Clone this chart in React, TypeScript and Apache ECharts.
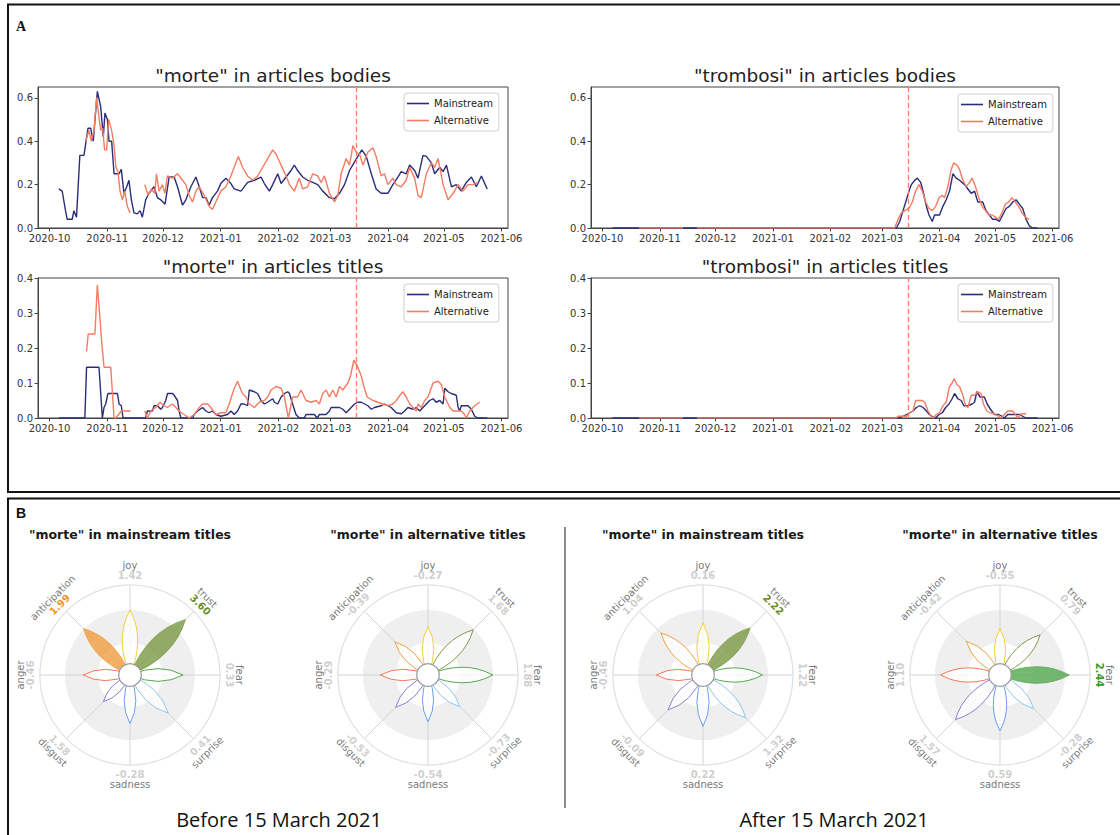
import React, { useEffect, useRef } from "react";
import * as echarts from "echarts";

// x values: days since 2020-10-01
const monthTickDays = [0, 31, 61, 92, 123, 151, 182, 212, 243];
const monthTickLabels = ["2020-10", "2020-11", "2020-12", "2021-01", "2021-02", "2021-03", "2021-04", "2021-05", "2021-06"];
const cutoffDay = 165; // 2021-03-15
const bodiesYTicks = [0, 0.2, 0.4, 0.6];
const titlesYTicks = [0, 0.1, 0.2, 0.3, 0.4];
const GAP = "-";

const morteBodiesMainstream = [
  [5, 0.18], [6.8, 0.17], [8.6, 0.08], [9.5, 0.04], [12.2, 0.04], [13.1, 0.08], [14.5, 0.05], [16.3, 0.335], [18.5, 0.335],
  [20.7, 0.46], [22.1, 0.46], [23.5, 0.4], [25.7, 0.63], [27.5, 0.56], [28.9, 0.42], [29.8, 0.53], [31.1, 0.5], [32, 0.4],
  [33.4, 0.4], [34.7, 0.25], [37.4, 0.25], [38.6, 0.27], [40, 0.16], [41.5, 0.19], [42.7, 0.22], [44, 0.13], [45.4, 0.07],
  [47.2, 0.065], [48.7, 0.08], [49.9, 0.05], [51.7, 0.13], [53.5, 0.16], [56.2, 0.19], [58, 0.14], [59.8, 0.13], [62.1, 0.11],
  [64.3, 0.235], [67, 0.235], [68.8, 0.19], [71.5, 0.105], [73.3, 0.13], [76, 0.19], [78.7, 0.235], [80.5, 0.19], [82.3, 0.14],
  [84.1, 0.14], [85.8, 0.105], [87.6, 0.14], [90.3, 0.17], [92.1, 0.205], [94.8, 0.23], [97.5, 0.205], [99.3, 0.18],
  [102.9, 0.17], [106.5, 0.21], [110.1, 0.22], [113.7, 0.235], [115.5, 0.205], [118.2, 0.17], [120, 0.2], [122.7, 0.25],
  [124.5, 0.205], [127.2, 0.235], [129.8, 0.265], [131.6, 0.29], [133.4, 0.265], [136.1, 0.235], [138.8, 0.22], [141.5, 0.21],
  [144.2, 0.2], [146.9, 0.17], [150.5, 0.14], [153.2, 0.135], [155.9, 0.16], [158.6, 0.2], [161.3, 0.265], [164, 0.305],
  [166.1, 0.335], [167.9, 0.36], [170.3, 0.33], [173, 0.25], [175.6, 0.18], [178.3, 0.16], [181.9, 0.16], [184.6, 0.2],
  [187.3, 0.235], [189.1, 0.26], [191.8, 0.25], [193.6, 0.29], [196.3, 0.265], [198.1, 0.23], [200.8, 0.335], [202.6, 0.33],
  [205.3, 0.3], [207.1, 0.25], [209.8, 0.28], [211.6, 0.26], [213.4, 0.29], [216.1, 0.19], [218.7, 0.2], [221.4, 0.17],
  [224.1, 0.21], [226.8, 0.235], [229.5, 0.19], [232.2, 0.24], [235.3, 0.18],
];

const morteBodiesAlternative = [
  [19.4, 0.4], [21.2, 0.45], [22.4, 0.4], [23.9, 0.45], [25.3, 0.6], [27.5, 0.45], [28.6, 0.46], [29.6, 0.36], [30.7, 0.36],
  [31.8, 0.5], [33.4, 0.45], [34.7, 0.38], [35.7, 0.28], [36.8, 0.26], [37.9, 0.17], [39.2, 0.13], [40.4, 0.17], [41.8, 0.1],
  [43.3, 0.07], [47, GAP], [51.2, 0.2], [53, 0.15], [54.8, 0.18], [56.6, 0.16], [57.5, 0.25], [58.9, 0.17], [60.7, 0.2],
  [62, 0.16], [63.4, 0.24], [66.1, 0.23], [68.8, 0.25], [71.5, 0.22], [73.3, 0.2], [75.1, 0.15], [76.9, 0.12], [78.7, 0.17],
  [80.5, 0.19], [83.2, 0.15], [85.8, 0.1], [87.6, 0.085], [89.4, 0.12], [92.1, 0.17], [94.8, 0.19], [97.5, 0.24], [99.3, 0.28],
  [101.5, 0.33], [103.8, 0.28], [106.5, 0.24], [109.2, 0.22], [111.9, 0.24], [114.6, 0.28], [117.3, 0.32], [120, 0.36],
  [121.8, 0.34], [124.5, 0.29], [127.2, 0.24], [129, 0.2], [131.6, 0.17], [134.3, 0.23], [136.1, 0.18], [138.8, 0.19],
  [141.5, 0.25], [144.2, 0.24], [146, 0.21], [147.8, 0.24], [150.5, 0.16], [153.2, 0.12], [155, 0.15], [156.8, 0.25],
  [159.5, 0.32], [161.3, 0.29], [163.1, 0.38], [164.9, 0.35], [166.7, 0.34], [168.5, 0.29], [171.2, 0.35], [173.9, 0.37],
  [175.6, 0.33], [178.3, 0.24], [180.1, 0.25], [181.9, 0.2], [184.6, 0.23], [186.4, 0.2], [189.1, 0.19], [191.8, 0.22],
  [193.6, 0.28], [196.3, 0.23], [198.1, 0.15], [199.9, 0.14], [202.6, 0.25], [205.3, 0.3], [207.1, 0.28], [208.9, 0.32],
  [211.6, 0.2], [214.3, 0.13], [217, 0.16], [219.7, 0.2], [222.3, 0.17], [225, 0.2], [227.7, 0.2], [230.4, 0.21],
];

const morteTitlesMainstream = [
  [5, 0], [19, 0], [19.9, 0.145], [26.6, 0.145], [28.4, 0], [29.3, 0.03], [30.2, 0.04], [31.4, 0.07], [36.5, 0.07],
  [37.4, 0.04], [38.6, 0.035], [39.5, 0], [51.7, 0], [52.6, 0.02], [55.3, 0.02], [56.2, 0.035], [58, 0.035], [59.8, 0.025],
  [60.7, 0.03], [62.5, 0.05], [63.4, 0.07], [66.1, 0.07], [67, 0.065], [68.8, 0.05], [69.7, 0.02], [70.6, 0], [76.9, 0],
  [77.8, 0.01], [79.6, 0.02], [82.3, 0.03], [84.1, 0.02], [85.8, 0.015], [87.6, 0.02], [89.4, 0.01], [92.1, 0.005],
  [95.7, 0.01], [97.5, 0.02], [99.3, 0.01], [101.1, 0.02], [102.9, 0.04], [104.7, 0.04], [106.5, 0.035], [107.4, 0.08],
  [110.1, 0.075], [111.9, 0.07], [113.7, 0.05], [115.5, 0.04], [117.3, 0.045], [120, 0.055], [120.9, 0.045], [122.7, 0.04],
  [124.5, 0.06], [126.3, 0.07], [128.1, 0.075], [129, 0.07], [130.7, 0.04], [132.5, 0.01], [134.3, 0], [137, 0],
  [137.9, 0.01], [142.4, 0.01], [143.9, 0], [145.1, 0.01], [148.7, 0.01], [150.5, 0.02], [151.4, 0.03], [155.9, 0.03],
  [157.7, 0.025], [159.5, 0.015], [161.3, 0.025], [164, 0.04], [165.8, 0.045], [167.6, 0.045], [169.4, 0.04], [171.2, 0.035],
  [173, 0.025], [174.7, 0.03], [178.3, 0.035], [180.1, 0.04], [181.9, 0.035], [183.7, 0.03], [186.4, 0.015], [189.1, 0.012],
  [190.9, 0.02], [192.7, 0.03], [195.4, 0.025], [197.2, 0.03], [199, 0.02], [200.8, 0.03], [202.6, 0.04], [204.4, 0.05],
  [206.2, 0.055], [207.9, 0.045], [209.8, 0.05], [211.6, 0.04], [212.5, 0.085], [214.3, 0.075], [216.1, 0.07], [218.7, 0.065],
  [219.7, 0.03], [220.5, 0.02], [221.4, 0.035], [225, 0.035], [226.8, 0.025], [228.6, 0.005], [230.4, 0], [235.3, 0],
];

const morteTitlesAlternative = [
  [19.9, 0.19], [20.8, 0.24], [24.4, 0.24], [25.7, 0.38], [26.9, 0.3], [28, 0.22], [29.3, 0.145], [32.9, 0.145], [34.7, 0],
  [35.6, 0], [38.6, 0.02], [43.6, 0.02], [47, GAP], [51.2, 0.02], [52.6, 0], [54.4, 0.02], [57.1, 0.03], [59.4, 0.045],
  [61.6, 0.035], [63.4, 0.03], [66.1, 0.04], [67.9, 0.03], [69.7, 0.02], [72.4, 0.01], [75.1, 0], [77.8, 0.01], [80.5, 0.03],
  [82.3, 0.04], [85, 0.04], [86.7, 0.03], [89.4, 0.01], [92.1, 0.015], [94.8, 0.015], [96.6, 0.04], [99.3, 0.085],
  [101.1, 0.105], [102.9, 0.08], [103.8, 0.07], [105.6, 0.06], [107.4, 0.04], [110.1, 0.03], [112.8, 0.045], [115.5, 0.05],
  [117.3, 0.06], [119.1, 0.08], [121.8, 0.09], [124.5, 0.085], [126.3, 0.06], [128.4, 0], [130.7, 0.06], [133.4, 0.06],
  [135.2, 0.08], [137.9, 0.05], [140.6, 0.045], [143.3, 0.05], [145.1, 0.04], [146.9, 0.07], [148.7, 0.08], [150.5, 0.06],
  [152.3, 0.08], [154.1, 0.06], [155.9, 0.09], [157.7, 0.08], [160.4, 0.1], [161.8, 0.12], [163.6, 0.165], [165.4, 0.15],
  [167.6, 0.12], [169, 0.09], [170.8, 0.06], [173.9, 0.05], [176.5, 0.045], [179.2, 0.04], [181.9, 0.035], [184.6, 0.04],
  [186.4, 0.05], [189.1, 0.07], [190, 0.075], [191.8, 0.06], [193.6, 0.04], [195.4, 0.03], [197.2, 0.02], [198.1, 0.04],
  [199.9, 0.03], [201.7, 0.05], [203.5, 0.06], [206.2, 0.1], [208.9, 0.105], [210.7, 0.095], [212.5, 0.06], [214.3, 0.04],
  [215.2, 0.03], [217, 0.02], [221.4, 0.02], [223.2, 0.01], [224.1, 0], [225.9, 0.02], [228.6, 0.035], [231.3, 0.045],
];

const trombosiBodiesMainstream = [
  [5.4, 0], [158.7, 0], [160.5, 0.03], [162.3, 0.08], [164.1, 0.13], [165.5, 0.17], [166.8, 0.2], [168.6, 0.22], [170, 0.23],
  [171.8, 0.21], [173.1, 0.17], [174.9, 0.1], [176.3, 0.06], [178.1, 0.03], [179.3, 0.06], [182, 0.06], [183.8, 0.1],
  [185.6, 0.13], [187.4, 0.17], [189.2, 0.25], [191, 0.23], [192.8, 0.22], [195.5, 0.2], [197.3, 0.18], [199.1, 0.16],
  [200.9, 0.17], [202.7, 0.12], [205.3, 0.12], [207.1, 0.08], [208.9, 0.06], [210.7, 0.04], [212.5, 0.04], [214.3, 0.03],
  [216.1, 0.06], [217.9, 0.09], [219.7, 0.1], [221.5, 0.12], [223.3, 0.13], [225.1, 0.11], [226.9, 0.09], [228.7, 0.04],
  [230.5, 0.01], [232.2, 0], [234.9, 0],
];

const trombosiBodiesAlternative = [
  [19.7, 0], [43.5, 0], [47, GAP], [51, 0], [157.8, 0], [159.6, 0.04], [161.4, 0.07], [163.2, 0.08], [165.5, 0.09],
  [167.3, 0.12], [169.1, 0.17], [170.9, 0.2], [172.7, 0.17], [174.5, 0.12], [176.3, 0.09], [178.1, 0.08], [179.9, 0.1],
  [181.7, 0.14], [183.5, 0.15], [184.7, 0.14], [186.5, 0.19], [188.3, 0.27], [189.6, 0.3], [191.4, 0.29], [192.8, 0.27],
  [194.6, 0.22], [196.4, 0.19], [198.2, 0.21], [199.6, 0.23], [201.4, 0.19], [203.2, 0.14], [205, 0.1], [206.8, 0.08],
  [208.6, 0.06], [210.4, 0.06], [212.2, 0.05], [213.9, 0.04], [215.7, 0.07], [217.5, 0.11], [219.3, 0.12], [221.1, 0.14],
  [222.9, 0.12], [224.7, 0.1], [226.5, 0.07], [228.3, 0.05], [230.4, 0.04],
];

const trombosiTitlesMainstream = [
  [5.4, 0], [160.5, 0], [162.3, 0.005], [164.1, 0.01], [165.9, 0.015], [167.7, 0.02], [169.5, 0.03], [171.3, 0.035],
  [173.1, 0.03], [174.9, 0.02], [176.6, 0.01], [178.4, 0.003], [179.9, 0], [181.7, 0.01], [183.5, 0.015], [185.3, 0.03],
  [187.1, 0.04], [188.8, 0.055], [190.1, 0.07], [191.9, 0.055], [193.7, 0.05], [195.1, 0.035], [197.3, 0.035], [199.6, 0.04],
  [200.9, 0.045], [202.1, 0.075], [203.9, 0.06], [206.2, 0.06], [207.7, 0.04], [209.5, 0.025], [211.6, 0.01], [213.9, 0.01],
  [215.7, 0.005], [217, 0], [218.8, 0.01], [225.1, 0.01], [226.9, 0.005], [228.7, 0], [234.9, 0],
];

const trombosiTitlesAlternative = [
  [19.7, 0], [43.5, 0], [47, GAP], [51, 0], [158.7, 0], [159.6, 0.005], [164.1, 0.005], [165.9, 0.015], [167.7, 0.02],
  [169.1, 0.05], [172.7, 0.05], [174, 0.045], [175.8, 0.02], [177.5, 0.005], [178.8, 0], [180.2, 0.01], [182, 0.015],
  [183.8, 0.035], [185.6, 0.045], [187.4, 0.09], [188.8, 0.1], [189.9, 0.112], [191.4, 0.095], [192.8, 0.09], [194.6, 0.065],
  [196, 0.035], [197.3, 0.03], [199.1, 0.065], [200.9, 0.065], [202.7, 0.075], [204.4, 0.07], [205.7, 0.04], [207.5, 0.02],
  [209.3, 0.015], [211.6, 0.012], [213.9, 0.005], [215.2, 0], [217, 0.01], [218.8, 0.02], [221.5, 0.02], [222.9, 0.01],
  [224.2, 0], [226, 0.012], [228.7, 0.012],
];

// Panel B: emotion wheels (petal length relative to the outer circle, and displayed scores)
const emotions = ["joy", "trust", "fear", "surprise", "sadness", "disgust", "anger", "anticipation"];
const wheelTitles = ['"morte" in mainstream titles', '"morte" in alternative titles', '"morte" in mainstream titles', '"morte" in alternative titles'];
const petalsBeforeMainstream = [0.72, 0.87, 0.59, 0.6, 0.54, 0.42, 0.52, 0.73];
const scoresBeforeMainstream = [1.42, 3.6, 0.33, 0.41, -0.28, 1.58, -0.46, 1.99];
const petalsBeforeAlternative = [0.54, 0.71, 0.72, 0.5, 0.52, 0.51, 0.53, 0.52];
const scoresBeforeAlternative = [-0.27, 1.68, 1.88, -0.73, -0.54, -0.53, -0.29, -0.39];
const petalsAfterMainstream = [0.58, 0.74, 0.66, 0.67, 0.57, 0.55, 0.52, 0.66];
const scoresAfterMainstream = [0.16, 2.22, 1.22, 1.32, 0.22, -0.09, -0.46, 1.04];
const petalsAfterAlternative = [0.52, 0.63, 0.77, 0.53, 0.62, 0.7, 0.66, 0.53];
const scoresAfterAlternative = [-0.55, 0.79, 2.44, -0.28, 0.59, 1.57, 1.1, -0.42];
const significance = 1.96;
const periodLabels = ["Before 15 March 2021", "After 15 March 2021"];

const MAIN = "#2a2d78";
const ALT = "#f57b63";
const FONT = "DejaVu Sans";
const emotionColors = ["#f3d03c", "#7c9c48", "#58a950", "#8cc6ea", "#6a9ef0", "#8e7fd6", "#f27a5a", "#f0a043"];
const emotionHiText = ["#e0b820", "#6a8c28", "#3c9a32", "#4f9fd6", "#3d7fe0", "#6c5cc8", "#e85a3a", "#f39526"];

const wheels = [
  { petals: petalsBeforeMainstream, scores: scoresBeforeMainstream, center: [130, 675] },
  { petals: petalsBeforeAlternative, scores: scoresBeforeAlternative, center: [428, 675] },
  { petals: petalsAfterMainstream, scores: scoresAfterMainstream, center: [703, 675] },
  { petals: petalsAfterAlternative, scores: scoresAfterAlternative, center: [1000, 675] },
];

const lineCharts = [
  { title: '"morte" in articles bodies', main: morteBodiesMainstream, alt: morteBodiesAlternative, yMax: 0.65, yTicks: bodiesYTicks, grid: { left: 38, top: 87, width: 470, height: 141 }, legend: { left: 404, top: 93 }, titlePos: [273, 75] },
  { title: '"trombosi" in articles bodies', main: trombosiBodiesMainstream, alt: trombosiBodiesAlternative, yMax: 0.65, yTicks: bodiesYTicks, grid: { left: 591, top: 87, width: 468, height: 141 }, legend: { left: 958, top: 94 }, titlePos: [825, 75] },
  { title: '"morte" in articles titles', main: morteTitlesMainstream, alt: morteTitlesAlternative, yMax: 0.4, yTicks: titlesYTicks, grid: { left: 38, top: 278, width: 470, height: 140 }, legend: { left: 404, top: 284 }, titlePos: [273, 266] },
  { title: '"trombosi" in articles titles', main: trombosiTitlesMainstream, alt: trombosiTitlesAlternative, yMax: 0.4, yTicks: titlesYTicks, grid: { left: 591, top: 278, width: 468, height: 140 }, legend: { left: 958, top: 284 }, titlePos: [825, 266] },
];

function petalRenderer(scores: number[]) {
  return (params: any, api: any) => {
    const i = params.dataIndex;
    const len = api.value(0);
    const ang = api.value(1);
    const c = api.coord([0, ang]);
    const t = api.coord([len, ang]);
    const dx = t[0] - c[0];
    const dy = t[1] - c[1];
    const L = Math.sqrt(dx * dx + dy * dy) || 1;
    const nx = -dy / L;
    const ny = dx / L;
    const h = 0.24 * L;
    const qx = c[0] + dx * 0.56;
    const qy = c[1] + dy * 0.56;
    const d = `M${c[0]} ${c[1]}Q${qx + nx * h} ${qy + ny * h} ${t[0]} ${t[1]}Q${qx - nx * h} ${qy - ny * h} ${c[0]} ${c[1]}Z`;
    const score = scores[i];
    const hi = score > significance;
    const col = emotionColors[i];
    let deg = 90 - 45 * ang;
    while (deg <= -180) deg += 360;
    const rotDeg = deg >= 0 ? deg - 90 : deg + 90;
    const rot = (rotDeg * Math.PI) / 180;
    const pn = api.coord([1.215, ang]);
    const pv = api.coord([1.105, ang]);
    return {
      type: "group",
      children: [
        {
          type: "path",
          shape: { pathData: d },
          style: hi
            ? { fill: col, opacity: 0.82, stroke: col, lineWidth: 1 }
            : { fill: "rgba(255,255,255,0.78)", stroke: col, lineWidth: 1 },
        },
        {
          type: "text",
          x: pn[0],
          y: pn[1],
          rotation: rot,
          style: { text: emotions[i], fill: "#7a7a7a", fontSize: 10, fontFamily: FONT, align: "center", verticalAlign: "middle" },
        },
        {
          type: "text",
          x: pv[0],
          y: pv[1],
          rotation: rot,
          style: {
            text: score.toFixed(2),
            fill: hi ? emotionHiText[i] : "#cfcfcf",
            fontSize: 10,
            fontWeight: "bold",
            fontFamily: FONT,
            align: "center",
            verticalAlign: "middle",
          },
        },
      ],
    };
  };
}

function centerRenderer(params: any, api: any) {
  const c = api.coord([0, 0]);
  const e = api.coord([0.125, 2]);
  const r = Math.abs(e[0] - c[0]);
  return { type: "circle", shape: { cx: c[0], cy: c[1], r }, style: { fill: "#ffffff", stroke: "#9a9a9a", lineWidth: 1.2 } };
}

export default function App() {
  const ref = useRef<HTMLDivElement>(null);
  useEffect(() => {
    if (!ref.current) return;
    const chart = echarts.init(ref.current, null, { renderer: "svg" });

    const grids = lineCharts.map((lc) => ({ ...lc.grid, show: true, borderColor: "#444", borderWidth: 1, containLabel: false, outerBoundsMode: "none" }));
    const xAxes = lineCharts.map((_, g) => ({
      gridIndex: g,
      type: "value",
      min: -6.2,
      max: 246.5,
      axisLine: { show: true, onZero: false, lineStyle: { color: "#444" } },
      axisTick: { show: true, length: 3.5, customValues: monthTickDays, lineStyle: { color: "#444" } },
      axisLabel: {
        customValues: monthTickDays,
        formatter: (v: number) => {
          const k = monthTickDays.indexOf(Math.round(v));
          return k >= 0 ? monthTickLabels[k] : "";
        },
        fontSize: 10,
        color: "#333",
        margin: 5,
        fontFamily: FONT,
      },
      splitLine: { show: false },
    }));
    const yAxes = lineCharts.map((lc, g) => ({
      gridIndex: g,
      type: "value",
      min: 0,
      max: lc.yMax,
      axisLine: { show: true, onZero: false, lineStyle: { color: "#444" } },
      axisTick: { show: true, length: 3.5, customValues: lc.yTicks, lineStyle: { color: "#444" } },
      axisLabel: { customValues: lc.yTicks, formatter: (v: number) => v.toFixed(1), fontSize: 10, color: "#333", margin: 5, fontFamily: FONT },
      splitLine: { show: false },
    }));
    const legends = lineCharts.map((lc) => ({
      data: ["Mainstream", "Alternative"],
      left: lc.legend.left,
      top: lc.legend.top,
      orient: "vertical",
      icon: "rect",
      itemWidth: 22,
      itemHeight: 1.6,
      itemGap: 4,
      padding: [4, 6, 4, 3],
      borderColor: "#d0d0d0",
      borderWidth: 1,
      borderRadius: 3,
      backgroundColor: "rgba(255,255,255,0.85)",
      textStyle: { fontSize: 10, color: "#222", fontFamily: FONT, lineHeight: 13 },
    }));
    const lineSeries: any[] = [];
    lineCharts.forEach((lc, g) => {
      lineSeries.push({
        name: "Mainstream",
        type: "line",
        xAxisIndex: g,
        yAxisIndex: g,
        data: lc.main,
        showSymbol: false,
        symbol: "none",
        color: MAIN,
        lineStyle: { color: MAIN, width: 1.4 },
        z: 2,
      });
      lineSeries.push({
        name: "Alternative",
        type: "line",
        xAxisIndex: g,
        yAxisIndex: g,
        data: lc.alt,
        showSymbol: false,
        symbol: "none",
        color: ALT,
        lineStyle: { color: ALT, width: 1.4 },
        z: 3,
        markLine: {
          silent: true,
          symbol: ["none", "none"],
          label: { show: false },
          lineStyle: { color: ALT, type: [5, 3], width: 1.3 },
          data: [{ xAxis: cutoffDay }],
        },
      });
    });

    const polars = wheels.map((w) => ({ center: w.center, radius: 90 }));
    const angleAxes = wheels.map((_, k) => ({
      polarIndex: k,
      type: "value",
      min: 0,
      max: 8,
      interval: 1,
      startAngle: 90,
      clockwise: true,
      axisLine: { show: true, lineStyle: { color: "#e2e2e2", width: 1.2 } },
      axisTick: { show: false },
      axisLabel: { show: false },
      splitLine: { show: true, lineStyle: { color: "#d4d4d4", width: 1 } },
    }));
    const radiusAxes = wheels.map((_, k) => ({
      polarIndex: k,
      type: "value",
      min: 0,
      max: 1,
      interval: 0.36,
      axisLine: { show: false },
      axisTick: { show: false },
      axisLabel: { show: false },
      splitLine: { show: true, lineStyle: { color: "#d2d2d2", type: "dotted", width: 1 } },
      splitArea: { show: true, areaStyle: { color: ["#ffffff", "#efefef"] } },
    }));
    const wheelSeries: any[] = [];
    wheels.forEach((w, k) => {
      wheelSeries.push({
        type: "custom",
        coordinateSystem: "polar",
        polarIndex: k,
        data: w.petals.map((p, i) => [p, i]),
        renderItem: petalRenderer(w.scores),
        z: 4,
        silent: true,
      });
      wheelSeries.push({
        type: "custom",
        coordinateSystem: "polar",
        polarIndex: k,
        data: [[0, 0]],
        renderItem: centerRenderer,
        z: 5,
        silent: true,
      });
    });

    const graphics: any[] = [
      { type: "rect", shape: { x: 8, y: 4.5, width: 1130, height: 487.5 }, style: { fill: "none", stroke: "#111", lineWidth: 2 }, z: 10 },
      { type: "rect", shape: { x: 8, y: 498.5, width: 1130, height: 360 }, style: { fill: "none", stroke: "#111", lineWidth: 2 }, z: 10 },
      { type: "text", x: 21, y: 26, style: { text: "A", fontSize: 14, fontWeight: "bold", fontFamily: "Liberation Serif", fill: "#111", align: "center", verticalAlign: "middle" } },
      { type: "text", x: 21, y: 513, style: { text: "B", fontSize: 14, fontWeight: "bold", fontFamily: "Liberation Sans", fill: "#111", align: "center", verticalAlign: "middle" } },
      { type: "line", shape: { x1: 565, y1: 527, x2: 565, y2: 808 }, style: { stroke: "#666", lineWidth: 1.5 } },
      { type: "text", x: 279, y: 819, style: { text: periodLabels[0], fontSize: 20, fontFamily: "Open Sans", fill: "#111", align: "center", verticalAlign: "middle" } },
      { type: "text", x: 834, y: 819, style: { text: periodLabels[1], fontSize: 20, fontFamily: "Open Sans", fill: "#111", align: "center", verticalAlign: "middle" } },
    ];
    lineCharts.forEach((lc) => {
      graphics.push({ type: "text", x: lc.titlePos[0], y: lc.titlePos[1], style: { text: lc.title, fontSize: 18.5, fontFamily: FONT, fill: "#222", align: "center", verticalAlign: "middle" } });
    });
    wheels.forEach((w, k) => {
      graphics.push({ type: "text", x: w.center[0], y: 534, style: { text: wheelTitles[k], fontSize: 12.5, fontWeight: "bold", fontFamily: FONT, fill: "#1a1a1a", align: "center", verticalAlign: "middle" } });
    });

    chart.setOption({
      animation: false,
      backgroundColor: "#ffffff",
      textStyle: { fontFamily: FONT },
      grid: grids,
      xAxis: xAxes,
      yAxis: yAxes,
      legend: legends,
      polar: polars,
      angleAxis: angleAxes,
      radiusAxis: radiusAxes,
      series: [...lineSeries, ...wheelSeries],
      graphic: graphics,
    });
    return () => chart.dispose();
  }, []);
  return <div ref={ref} style={{ position: "absolute", left: 0, top: 0, width: 1120, height: 835, background: "#fff" }} />;
}
